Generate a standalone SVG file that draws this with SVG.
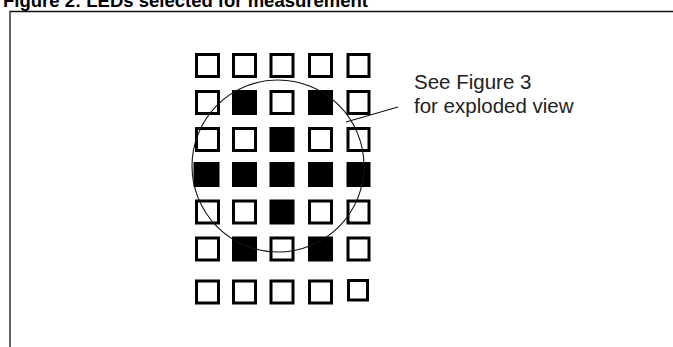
<svg xmlns="http://www.w3.org/2000/svg" width="673" height="347" viewBox="0 0 673 347">
<style>
.title{font-family:"Liberation Sans",Arial,sans-serif;font-weight:bold;font-size:18.5px;fill:#000}
.lbl{font-family:"Liberation Sans",Arial,sans-serif;font-size:20.5px;fill:#222}
.e{fill:#fff;stroke:#000;stroke-width:3}
.f{fill:#000;stroke:#000;stroke-width:3}
.frame{fill:none;stroke:#111;stroke-width:1.3}
.thin{fill:none;stroke:#111;stroke-width:1.1}
</style>
<rect width="673" height="347" fill="#fff"/>
<text class="title" x="3" y="7">Figure 2: LEDs selected for measurement</text>
<path class="frame" d="M10,347 V11.5 H673"/>
<g id="grid">
<g id="row1">
<rect class="e" x="196.5" y="54.5" width="22" height="22"/>
<rect class="e" x="233.5" y="54.5" width="22" height="22"/>
<rect class="e" x="271" y="54.5" width="22" height="22"/>
<rect class="e" x="309.5" y="54.5" width="22" height="22"/>
<rect class="e" x="348" y="54.5" width="21" height="22"/>
</g>
<g id="row2">
<rect class="e" x="196.5" y="91.5" width="22" height="22"/>
<rect class="f" x="233.5" y="91.5" width="22" height="22"/>
<rect class="e" x="271" y="91.5" width="22" height="22"/>
<rect class="f" x="309.5" y="91.5" width="22" height="22"/>
<rect class="e" x="348" y="91.5" width="21" height="22"/>
</g>
<g id="row3">
<rect class="e" x="196.5" y="128.5" width="22" height="22"/>
<rect class="e" x="233.5" y="128.5" width="22" height="22"/>
<rect class="f" x="271" y="128.5" width="22" height="22"/>
<rect class="e" x="309.5" y="128.5" width="22" height="22"/>
<rect class="e" x="348" y="128.5" width="21" height="22"/>
</g>
<g id="row4">
<rect class="f" x="195" y="163.5" width="23" height="22"/>
<rect class="f" x="233.5" y="163.5" width="22" height="22"/>
<rect class="f" x="271" y="163.5" width="22" height="22"/>
<rect class="f" x="309.5" y="163.5" width="22" height="22"/>
<rect class="f" x="348" y="163.5" width="21" height="22"/>
</g>
<g id="row5">
<rect class="e" x="196.5" y="201" width="22" height="22"/>
<rect class="e" x="233.5" y="201" width="22" height="22"/>
<rect class="f" x="271" y="201" width="22" height="22"/>
<rect class="e" x="309.5" y="201" width="22" height="22"/>
<rect class="e" x="348" y="201" width="21" height="22"/>
</g>
<g id="row6">
<rect class="e" x="196.5" y="238" width="22" height="22"/>
<rect class="f" x="233.5" y="238" width="22" height="22"/>
<rect class="e" x="271" y="238" width="22" height="22"/>
<rect class="f" x="309.5" y="238" width="22" height="22"/>
<rect class="e" x="348" y="238" width="21" height="22"/>
</g>
<g id="row7">
<rect class="e" x="196.5" y="281" width="22" height="22"/>
<rect class="e" x="233.5" y="281" width="22" height="22"/>
<rect class="e" x="271" y="281" width="22" height="22"/>
<rect class="e" x="309.5" y="281" width="22" height="22"/>
<rect class="e" x="348.5" y="280.5" width="19" height="19.5"/>
</g>
</g>
<g id="selection">
<circle class="thin" cx="278" cy="166" r="86"/>
</g>
<g id="connectors">
<line class="thin" x1="346" y1="122" x2="398" y2="107"/>
</g>
<g id="note">
<text class="lbl" x="414" y="89">See Figure 3</text>
<text class="lbl" x="414" y="113">for exploded view</text>
</g>
</svg>
